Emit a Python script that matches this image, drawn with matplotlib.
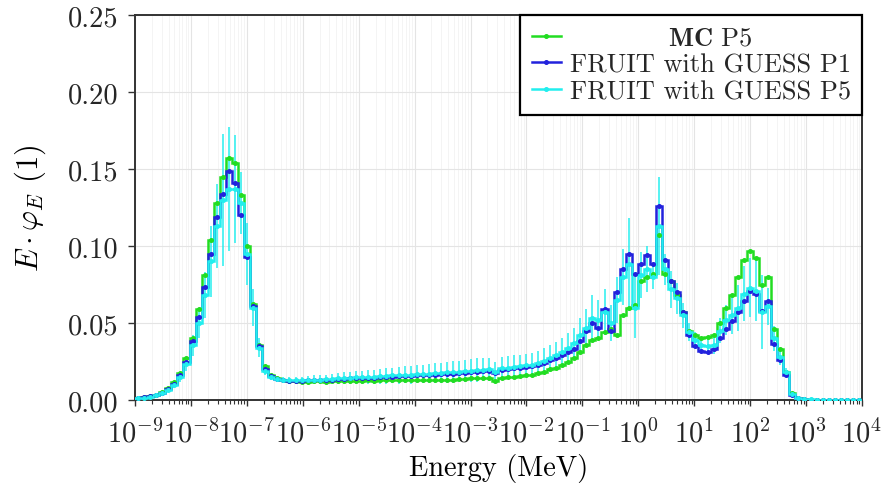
import numpy as np
import matplotlib
matplotlib.use("Agg")
import matplotlib.pyplot as plt
from matplotlib.lines import Line2D
from matplotlib.ticker import LogLocator, LogFormatterMathtext, MultipleLocator, FormatStrFormatter, NullFormatter

plt.rcParams['font.family'] = ['cmr10', 'DejaVu Serif']
plt.rcParams['mathtext.fontset'] = 'cm'
plt.rcParams['axes.formatter.use_mathtext'] = True
plt.rcParams['text.color'] = '#262626'
plt.rcParams['xtick.labelcolor'] = '#262626'
plt.rcParams['ytick.labelcolor'] = '#262626'

# ---- data: 120 log-spaced energy bins from 1e-9 to 1e4 MeV ----
e_min_exp = -9
e_max_exp = 4
n_bins = 120

mc_p5 = [
    0.0012, 0.0018, 0.0025, 0.0035, 0.0050, 0.0075, 0.0115, 0.0175, 0.0270, 0.0400,
    0.0590, 0.0810, 0.1040, 0.1280, 0.1450, 0.1570, 0.1540, 0.1330, 0.1000, 0.0625,
    0.0360, 0.0220, 0.0160, 0.0140, 0.0130, 0.0125, 0.0125, 0.0120, 0.0120, 0.0122,
    0.0122, 0.0120, 0.0122, 0.0125, 0.0122, 0.0122, 0.0125, 0.0125, 0.0127, 0.0125,
    0.0127, 0.0128, 0.0130, 0.0128, 0.0128, 0.0130, 0.0130, 0.0130, 0.0132, 0.0132,
    0.0130, 0.0133, 0.0133, 0.0135, 0.0135, 0.0140, 0.0145, 0.0142, 0.0140, 0.0125,
    0.0145, 0.0150, 0.0150, 0.0155, 0.0160, 0.0165, 0.0175, 0.0185, 0.0200, 0.0210,
    0.0225, 0.0245, 0.0270, 0.0310, 0.0360, 0.0390, 0.0400, 0.0440, 0.0460, 0.0420,
    0.0550, 0.0600, 0.0620, 0.0770, 0.0800, 0.0820, 0.1070, 0.0820, 0.0770, 0.0680,
    0.0570, 0.0450, 0.0420, 0.0400, 0.0410, 0.0420, 0.0500, 0.0600, 0.0680, 0.0800,
    0.0910, 0.0970, 0.0920, 0.0750, 0.0800, 0.0460, 0.0330, 0.0180, 0.0045, 0.0015,
    0.0006, 0.0003, 0.0002, 0.0002, 0.0001, 0.0001, 0.0001, 0.0001, 0.0001, 0.0001,
]

fruit_p1 = [
    0.0012, 0.0017, 0.0024, 0.0034, 0.0048, 0.0070, 0.0105, 0.0160, 0.0250, 0.0380,
    0.0540, 0.0735, 0.0950, 0.1190, 0.1340, 0.1490, 0.1410, 0.1200, 0.0930, 0.0610,
    0.0350, 0.0200, 0.0155, 0.0135, 0.0130, 0.0125, 0.0125, 0.0125, 0.0128, 0.0130,
    0.0130, 0.0130, 0.0133, 0.0135, 0.0137, 0.0140, 0.0140, 0.0142, 0.0145, 0.0145,
    0.0147, 0.0150, 0.0152, 0.0155, 0.0155, 0.0157, 0.0160, 0.0160, 0.0162, 0.0165,
    0.0167, 0.0170, 0.0172, 0.0175, 0.0177, 0.0180, 0.0185, 0.0190, 0.0190, 0.0175,
    0.0195, 0.0200, 0.0205, 0.0210, 0.0215, 0.0220, 0.0230, 0.0240, 0.0260, 0.0270,
    0.0290, 0.0310, 0.0330, 0.0380, 0.0450, 0.0500, 0.0470, 0.0590, 0.0450, 0.0700,
    0.0850, 0.0950, 0.0820, 0.0880, 0.0940, 0.0880, 0.1260, 0.0910, 0.0770, 0.0700,
    0.0570, 0.0420, 0.0350, 0.0320, 0.0310, 0.0330, 0.0400, 0.0460, 0.0510, 0.0570,
    0.0640, 0.0710, 0.0690, 0.0580, 0.0640, 0.0365, 0.0260, 0.0165, 0.0035, 0.0010,
    0.0004, 0.0002, 0.0001, 0.0001, 0.0001, 0.0001, 0.0001, 0.0001, 0.0001, 0.0001,
]

fruit_p5 = [
    0.0011, 0.0016, 0.0022, 0.0032, 0.0045, 0.0066, 0.0100, 0.0150, 0.0235, 0.0355,
    0.0500, 0.0680, 0.0900, 0.1130, 0.1300, 0.1370, 0.1370, 0.1280, 0.0950, 0.0600,
    0.0340, 0.0190, 0.0150, 0.0135, 0.0130, 0.0127, 0.0127, 0.0128, 0.0130, 0.0133,
    0.0133, 0.0135, 0.0137, 0.0140, 0.0142, 0.0145, 0.0147, 0.0148, 0.0150, 0.0152,
    0.0155, 0.0157, 0.0160, 0.0162, 0.0163, 0.0165, 0.0168, 0.0170, 0.0172, 0.0175,
    0.0177, 0.0180, 0.0182, 0.0185, 0.0188, 0.0190, 0.0195, 0.0198, 0.0200, 0.0180,
    0.0205, 0.0210, 0.0215, 0.0220, 0.0225, 0.0230, 0.0240, 0.0255, 0.0270, 0.0290,
    0.0310, 0.0340, 0.0370, 0.0420, 0.0470, 0.0530, 0.0520, 0.0570, 0.0500, 0.0650,
    0.0800, 0.0880, 0.0600, 0.0810, 0.0850, 0.0800, 0.1130, 0.0850, 0.0720, 0.0660,
    0.0550, 0.0440, 0.0390, 0.0360, 0.0350, 0.0360, 0.0450, 0.0520, 0.0550, 0.0600,
    0.0690, 0.0730, 0.0710, 0.0570, 0.0610, 0.0400, 0.0280, 0.0180, 0.0040, 0.0015,
    0.0006, 0.0004, 0.0003, 0.0002, 0.0002, 0.0002, 0.0002, 0.0002, 0.0002, 0.0002,
]

fruit_p5_err = [
    0.0003, 0.0004, 0.0005, 0.0007, 0.0010, 0.0015, 0.0020, 0.0030, 0.0045, 0.0070,
    0.0100, 0.0150, 0.0230, 0.0270, 0.0430, 0.0400, 0.0350, 0.0200, 0.0200, 0.0120,
    0.0060, 0.0030, 0.0020, 0.0018, 0.0018, 0.0020, 0.0022, 0.0022, 0.0025, 0.0028,
    0.0030, 0.0030, 0.0035, 0.0035, 0.0038, 0.0040, 0.0040, 0.0042, 0.0045, 0.0045,
    0.0048, 0.0050, 0.0050, 0.0055, 0.0055, 0.0058, 0.0060, 0.0060, 0.0062, 0.0065,
    0.0065, 0.0068, 0.0070, 0.0070, 0.0072, 0.0075, 0.0075, 0.0075, 0.0075, 0.0070,
    0.0075, 0.0075, 0.0075, 0.0075, 0.0075, 0.0075, 0.0080, 0.0080, 0.0085, 0.0085,
    0.0090, 0.0095, 0.0100, 0.0110, 0.0120, 0.0150, 0.0130, 0.0150, 0.0120, 0.0150,
    0.0180, 0.0300, 0.0200, 0.0150, 0.0150, 0.0080, 0.0320, 0.0100, 0.0120, 0.0100,
    0.0080, 0.0060, 0.0050, 0.0050, 0.0050, 0.0060, 0.0080, 0.0100, 0.0120, 0.0150,
    0.0180, 0.0190, 0.0200, 0.0240, 0.0120, 0.0080, 0.0050, 0.0030, 0.0010, 0.0005,
    0.0003, 0.0002, 0.0002, 0.0002, 0.0002, 0.0002, 0.0002, 0.0002, 0.0002, 0.0002,
]

labels = [r'$\mathbf{MC}$ P5', 'FRUIT with GUESS P1', 'FRUIT with GUESS P5']
colors = ['#22dd22', '#2222dd', '#22eeee']

edges = np.logspace(e_min_exp, e_max_exp, n_bins + 1)
centers = np.sqrt(edges[:-1] * edges[1:])

fig = plt.figure(figsize=(8.83, 4.85), dpi=100)
ax = fig.add_axes([135 / 883, 84 / 485, 727 / 883, 385 / 485])

series = [mc_p5, fruit_p1, fruit_p5]
errs = [None, None, fruit_p5_err]
for vals, err, col in zip(series, errs, colors):
    ax.stairs(vals, edges, color=col, lw=1.8, zorder=3)
    if err is not None:
        ax.errorbar(centers, vals, yerr=err, fmt='none', ecolor=col, elinewidth=1.2,
                    capsize=0, zorder=3, alpha=0.9)
    ax.plot(centers, vals, ls='none', marker='o', ms=2.6, color=col, zorder=4)

ax.set_xscale('log')
ax.set_xlim(10.0 ** e_min_exp, 10.0 ** e_max_exp)
ax.set_ylim(0, 0.25)

ax.xaxis.set_major_locator(LogLocator(base=10, numticks=30))
ax.xaxis.set_major_formatter(LogFormatterMathtext())
ax.xaxis.set_minor_locator(LogLocator(base=10, subs=np.arange(2, 10), numticks=30))
ax.xaxis.set_minor_formatter(NullFormatter())
ax.yaxis.set_major_locator(MultipleLocator(0.05))
ax.yaxis.set_major_formatter(FormatStrFormatter('%.2f'))

ax.tick_params(axis='y', which='major', direction='out', length=5, width=1.0,
               labelsize=20.5, color='#333333', pad=7)
ax.tick_params(axis='x', which='major', direction='out', length=4, width=1.0,
               labelsize=20.5, color='#333333', pad=9)
ax.tick_params(axis='x', which='minor', direction='out', length=3, width=0.8, color='#333333')

ax.grid(True, which='major', color='#e4e4e4', lw=0.8, zorder=0)
ax.grid(True, which='minor', axis='x', color='#f3f3f3', lw=0.6, zorder=0)
ax.set_axisbelow(True)
for sp in ax.spines.values():
    sp.set_color('#333333')
    sp.set_linewidth(1.4)

ax.set_xlabel('Energy (MeV)', fontsize=20.5, labelpad=4)
ax.set_ylabel(r'$E\cdot\varphi_E$ (1)', fontsize=22, labelpad=14)

handles = [Line2D([], [], color=c, lw=1.8, marker='o', ms=2.6) for c in colors]
leg = ax.legend(handles, labels, loc='upper right', borderaxespad=0.0, fontsize=19,
                fancybox=False, framealpha=1.0, edgecolor='black', handlelength=1.1,
                handletextpad=0.35, labelspacing=0.12, borderpad=0.42)
leg.get_frame().set_linewidth(1.6)
leg.set_zorder(10)

# centre the first legend entry within the text column
fig.canvas.draw()
r = fig.canvas.get_renderer()
texts = leg.get_texts()
w0 = texts[0].get_window_extent(r).width
wmax = max(t.get_window_extent(r).width for t in texts)
texts[0].set_position(((wmax - w0) / 2.0, 0))

fig.savefig('out.png', dpi=100)
